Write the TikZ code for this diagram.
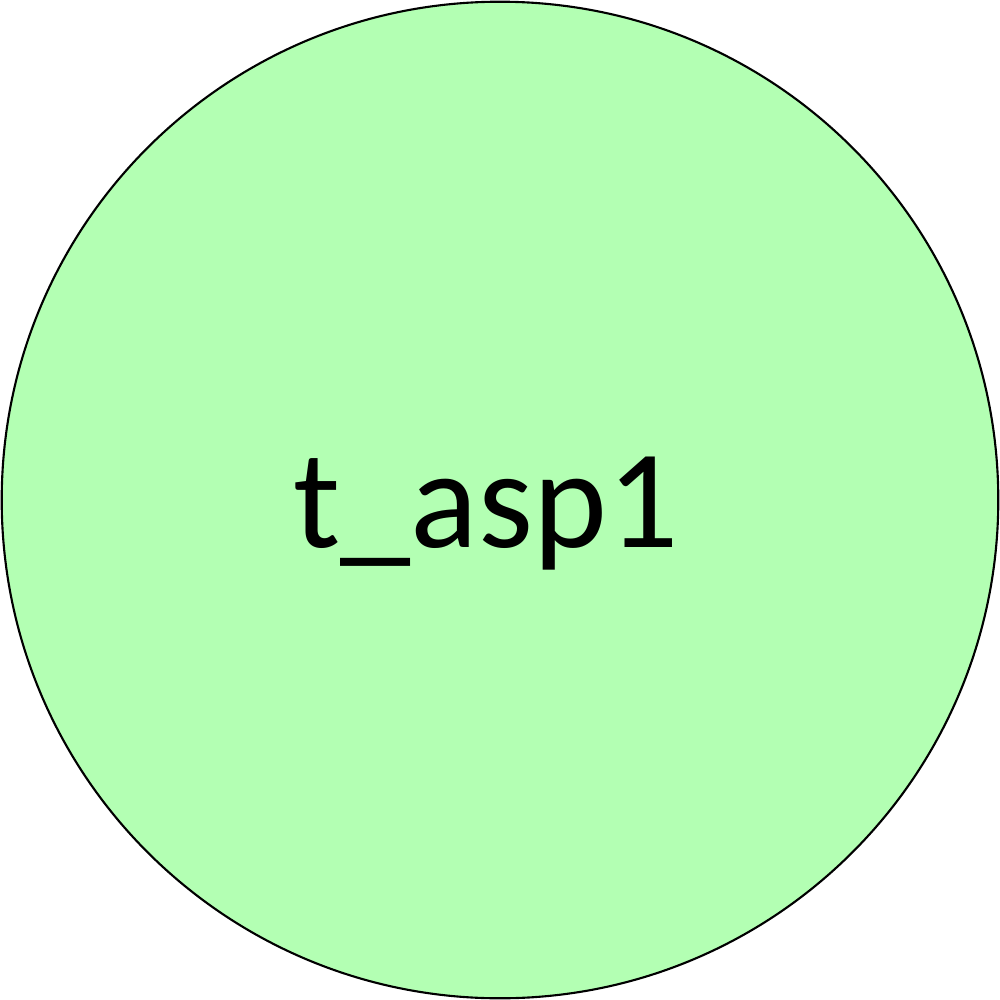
\documentclass[tikz,border=0pt]{standalone}
\usepackage{fontspec}
\setmainfont{Carlito}
\definecolor{nodegreen}{HTML}{B3FFB3}
\begin{document}
\begin{tikzpicture}[x=0.01cm,y=-0.01cm,
  bubble/.style={circle,draw=black,line width=0.6pt,fill=nodegreen,minimum size=9.96cm,inner sep=0pt}]
\useasboundingbox (0,0) rectangle (1000,1000);
\node[bubble] (c) at (500,500) {};
\node[font=\fontsize{40pt}{44pt}\selectfont,anchor=base] (t) at (486,547) {t\_asp1};
\end{tikzpicture}
\end{document}
